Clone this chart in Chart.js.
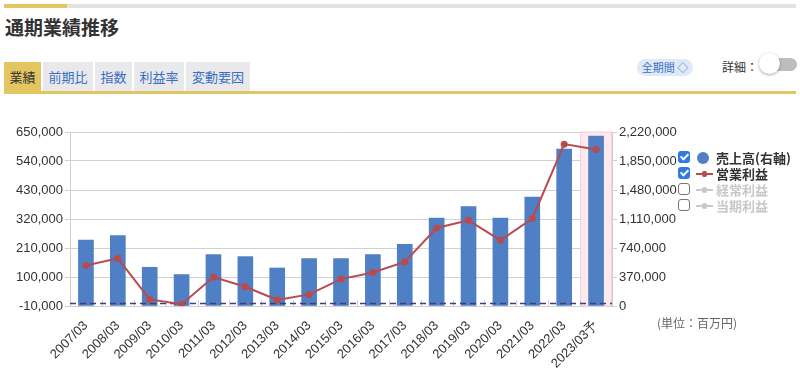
<!DOCTYPE html>
<html>
<head>
<meta charset="utf-8">
<script src="https://cdn.jsdelivr.net/npm/chart.js@4"></script>
<style>
  body { margin: 0; width: 800px; height: 370px; background: #fff; position: relative; overflow: hidden;
         font-family: "Noto Sans CJK JP", "Noto Sans", sans-serif; color: #333; }
  .abs { position: absolute; }
  .tab { position: absolute; top: 62px; height: 29px; background: #e9e9ec; color: #3b6fc2; font-size: 13px;
         line-height: 29px; text-align: center; }
  .tab.active { background: #e4c661; color: #333; }
  .leg { position: absolute; left: 678px; font-size: 13px; font-weight: bold; height: 16px; line-height: 16px; white-space: nowrap; }
  .cb { position: absolute; left: 0; top: 1px; width: 12px; height: 12px; border-radius: 3px; box-sizing: border-box; }
  .cb.on { background: #2f7ae5; }
  .cb.on::after { content: ""; position: absolute; left: 3.5px; top: 1px; width: 3px; height: 6px;
                  border: solid #fff; border-width: 0 2px 2px 0; transform: rotate(45deg); }
  .cb.off { border: 1.5px solid #777; background: #fff; }
  .mk { position: absolute; left: 18px; top: 7px; width: 17px; height: 2px; }
  .mk::after { content: ""; position: absolute; left: 6px; top: -2px; width: 5px; height: 6px; background: inherit; border-radius: 2px; }
  .lt { position: absolute; left: 38px; top: 0; }
</style>
</head>
<body>
<div class="abs" style="left:4px;top:4px;width:63px;height:4px;background:#e4c661"></div>
<div class="abs" style="left:67px;top:4px;width:729px;height:4px;background:#e2e2e2"></div>
<div class="abs" style="left:5px;top:13px;font-size:19px;font-weight:bold;">通期業績推移</div>

<div class="tab active" style="left:4px;width:37px;">業績</div>
<div class="tab" style="left:43px;width:50px;">前期比</div>
<div class="tab" style="left:95px;width:37px;">指数</div>
<div class="tab" style="left:134px;width:50px;">利益率</div>
<div class="tab" style="left:186px;width:64px;">変動要因</div>
<div class="abs" style="left:4px;top:91px;width:792px;height:3px;background:#e4c661"></div>

<div class="abs" style="left:637px;top:59px;width:56px;height:17px;border-radius:9px;background:#dfe9f7;color:#3b6fc2;font-size:11px;line-height:17px;text-align:center;">全期間 ◇</div>
<div class="abs" style="left:722px;top:58px;font-size:12px;color:#333;">詳細：</div>
<div class="abs" style="left:767px;top:58px;width:30px;height:13px;border-radius:7px;background:#bdbdbd"></div>
<div class="abs" style="left:759px;top:53px;width:21px;height:21px;border-radius:50%;background:#fff;box-shadow:0 1px 3px rgba(0,0,0,0.35)"></div>

<div class="abs" style="left:0;top:122px;width:690px;height:248px;">
  <canvas id="c"></canvas>
</div>

<div class="leg" style="top:150px;"><span class="cb on"></span><span class="abs" style="left:19px;top:2px;width:12px;height:12px;border-radius:50%;background:#4f7fc4"></span><span class="lt">売上高(右軸)</span></div>
<div class="leg" style="top:166px;"><span class="cb on"></span><span class="mk" style="background:#b94a4d"></span><span class="lt">営業利益</span></div>
<div class="leg" style="top:182px;color:#c8c8c8;"><span class="cb off"></span><span class="mk" style="background:#c8c8c8"></span><span class="lt">経常利益</span></div>
<div class="leg" style="top:198px;color:#c8c8c8;"><span class="cb off"></span><span class="mk" style="background:#c8c8c8"></span><span class="lt">当期利益</span></div>

<div class="abs" style="left:657px;top:314px;font-size:12px;color:#666;">(単位：百万円)</div>

<script>
// categories
const years = ["2007/03","2008/03","2009/03","2010/03","2011/03","2012/03","2013/03","2014/03","2015/03",
               "2016/03","2017/03","2018/03","2019/03","2020/03","2021/03","2022/03","2023/03予"];
// 売上高 (right axis)
const sales = [842000, 898000, 494000, 401000, 656000, 630000, 485000, 605000, 605000,
               656000, 787000, 1123000, 1268000, 1123000, 1391000, 2003000, 2169000];
// 営業利益 (left axis)
const opProfit = [144000, 171000, 15000, -3000, 100000, 63000, 13000, 34000, 92000,
                  117000, 157000, 286000, 315000, 239000, 322000, 604000, 584000];
// axis ranges
const leftMin = -10000, leftMax = 650000, leftStep = 110000;
const rightMin = 0, rightMax = 2220000, rightStep = 370000;
const forecastIndex = 16;

const fmt = v => Number(v).toLocaleString("en-US");

// pink band behind forecast column, zero line, small category ticks
const extras = {
  id: "extras",
  beforeDatasetsDraw(chart) {
    const { ctx, chartArea: a, scales } = chart;
    const x = scales.x;
    const w = x.getPixelForValue(1) - x.getPixelForValue(0);
    const cx = x.getPixelForValue(forecastIndex);
    ctx.save();
    ctx.fillStyle = "#fdeaee";
    ctx.fillRect(cx - w / 2, a.top, w, a.bottom - a.top);
    ctx.strokeStyle = "#f6cdd6";
    ctx.lineWidth = 1;
    ctx.strokeRect(cx - w / 2 + 0.5, a.top, w - 1, a.bottom - a.top);
    // little ticks at category boundaries
    ctx.strokeStyle = "#d9c9d3";
    for (let i = 0; i <= years.length; i++) {
      const bx = Math.round(x.getPixelForValue(i) - w / 2) + 0.5;
      ctx.beginPath(); ctx.moveTo(bx, a.bottom); ctx.lineTo(bx, a.bottom - 6); ctx.stroke();
    }
    ctx.restore();
  },
  afterDatasetDraw(chart, args) {
    if (args.index !== 1) return;
    const { ctx, chartArea: a, scales } = chart;
    const y0 = Math.round(scales.yL.getPixelForValue(0)) + 0.5;
    ctx.save();
    ctx.strokeStyle = "#3f3f78";
    ctx.lineWidth = 1.5;
    ctx.setLineDash([6, 4]);
    ctx.beginPath(); ctx.moveTo(a.left, y0); ctx.lineTo(a.right, y0); ctx.stroke();
    ctx.restore();
  }
};

new Chart(document.getElementById("c"), {
  type: "bar",
  data: {
    labels: years,
    datasets: [
      { type: "line", label: "営業利益", data: opProfit, yAxisID: "yL", order: 0,
        borderColor: "#b94a4d", backgroundColor: "#b94a4d", borderWidth: 2,
        pointRadius: 2.5, pointHoverRadius: 2.5, tension: 0 },
      { type: "bar", label: "売上高(右軸)", data: sales, yAxisID: "yR", order: 1,
        backgroundColor: "#4f7fc4", barThickness: 15 }
    ]
  },
  options: {
    responsive: true,
    maintainAspectRatio: false,
    animation: false,
    layout: { padding: { top: 10, left: 0, right: 0, bottom: 0 } },
    plugins: { legend: { display: false }, tooltip: { enabled: false } },
    scales: {
      x: {
        grid: { display: false },
        border: { display: false },
        ticks: { color: "#333", font: { family: "Liberation Sans, Arial, sans-serif", size: 13 },
                 minRotation: 45, maxRotation: 45, autoSkip: false, padding: 4 },
        afterFit: s => { s.height = 64; }
      },
      yL: {
        position: "left",
        min: leftMin, max: leftMax,
        grid: { color: "#d0d0d0", tickLength: 5 },
        border: { color: "#cfcfcf" },
        ticks: { stepSize: leftStep, color: "#333", padding: 2, callback: fmt,
                 font: { family: "Liberation Sans, Arial, sans-serif", size: 13 } },
        afterFit: s => { s.width = 70; }
      },
      yR: {
        position: "right",
        min: rightMin, max: rightMax,
        grid: { drawOnChartArea: false, color: "#d0d0d0", tickLength: 5 },
        border: { color: "#cfcfcf" },
        ticks: { stepSize: rightStep, color: "#333", padding: 2, callback: fmt,
                 font: { family: "Liberation Sans, Arial, sans-serif", size: 13 } },
        afterFit: s => { s.width = 78; }
      }
    }
  },
  plugins: [extras]
});
</script>
</body>
</html>
